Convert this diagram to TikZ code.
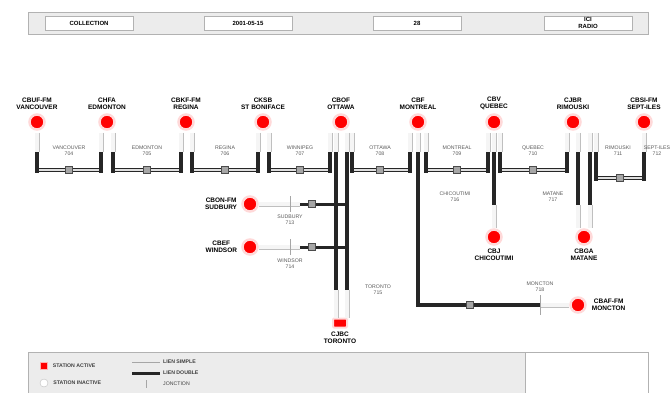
\documentclass[tikz,border=0pt]{standalone}
\usepackage{fontspec}
\setmainfont{Liberation Sans}
\usetikzlibrary{positioning}

\begin{document}
\begin{tikzpicture}[x=1pt, y=-1pt,
    stn/.style={circle, fill=red, draw=red!15, line width=2.5pt, minimum size=15pt, inner sep=0pt},
    stnlabel/.style={font=\bfseries\fontsize{6.5}{7}\selectfont, align=center, inner sep=1pt},
    tag/.style={font=\fontsize{5.2}{5.8}\selectfont, text=black!65, align=center, inner sep=1pt},
    feed/.style={draw=gray!50, double=gray!8, double distance=4pt, line width=0.5pt},
    leg/.style={draw=black!85, line width=4.5pt},
    cable/.style={draw=black!85, double=gray!25, double distance=2pt, line width=1.4pt},
    joint/.style={fill=gray!70, draw=black!70, minimum width=7pt, minimum height=7pt, inner sep=0pt},
    hbox/.style={draw=gray!60, fill=white, minimum width=88pt, minimum height=14pt, font=\bfseries\fontsize{6}{6.5}\selectfont, align=center, inner sep=0pt},
    lgtext/.style={font=\bfseries\fontsize{5.2}{5.8}\selectfont, text=black!75, inner sep=1pt}]
    \useasboundingbox (0,0) rectangle (672,392);
    % header
    \draw[gray!60, fill=gray!15] (28,12) rectangle (648,34);
    \node[hbox] (h1) at (89,23) {COLLECTION};
    \node[hbox] (h2) at (248,23) {2001-05-15};
    \node[hbox] (h3) at (417,23) {28};
    \node[hbox] (h4) at (588,23) {ICI\\RADIO};

    % stations on the main line
    \node[stn] (vanc) at (37,122) {};
    \node[stn] (edmo) at (107,122) {};
    \node[stn] (regi) at (186,122) {};
    \node[stn] (sbon) at (263,122) {};
    \node[stn] (otta) at (341,122) {};
    \node[stn] (mont) at (418,122) {};
    \node[stn] (queb) at (494,122) {};
    \node[stn] (rimo) at (573,122) {};
    \node[stn] (sept) at (644,122) {};
    \node[stnlabel, above=2pt of vanc] (vancL) {CBUF-FM\\VANCOUVER};
    \node[stnlabel, above=2pt of edmo] (edmoL) {CHFA\\EDMONTON};
    \node[stnlabel, above=2pt of regi] (regiL) {CBKF-FM\\REGINA};
    \node[stnlabel, above=2pt of sbon] (sbonL) {CKSB\\ST BONIFACE};
    \node[stnlabel, above=2pt of otta] (ottaL) {CBOF\\OTTAWA};
    \node[stnlabel, above=2pt of mont] (montL) {CBF\\MONTREAL};
    \node[stnlabel, above=2pt of queb] (quebL) {CBV\\QUEBEC};
    \node[stnlabel, above=2pt of rimo] (rimoL) {CJBR\\RIMOUSKI};
    \node[stnlabel, above=2pt of sept] (septL) {CBSI-FM\\SEPT-ILES};

    % branch stations
    \node[stn] (sudb) at (250,204) {};
    \node[stn] (wind) at (250,247) {};
    \node[stn] (chic) at (494,237) {};
    \node[stn] (mata) at (584,237) {};
    \node[stn] (monc) at (578,305) {};
    \node[fill=red, draw=red!15, line width=2pt, rounded corners=1pt, minimum width=14pt, minimum height=9pt, inner sep=0pt] (toro) at (340,323) {};
    \node[stnlabel, left=3pt of sudb] (sudbL) {CBON-FM\\SUDBURY};
    \node[stnlabel, left=3pt of wind] (windL) {CBEF\\WINDSOR};
    \node[stnlabel, below=2pt of chic] (chicL) {CBJ\\CHICOUTIMI};
    \node[stnlabel, below=2pt of mata] (mataL) {CBGA\\MATANE};
    \node[stnlabel, below=2pt of toro] (toroL) {CJBC\\TORONTO};
    \node[stnlabel, right=4pt of monc] (moncL) {CBAF-FM\\MONCTON};

    % leg ends
    \coordinate (vancA) at (37,152);  \coordinate (vancB) at (37,170);
    \coordinate (edmoA) at (101,152); \coordinate (edmoB) at (101,170);
    \coordinate (edmoC) at (113,152); \coordinate (edmoD) at (113,170);
    \coordinate (regiA) at (181,152); \coordinate (regiB) at (181,170);
    \coordinate (regiC) at (192,152); \coordinate (regiD) at (192,170);
    \coordinate (sbonA) at (258,152); \coordinate (sbonB) at (258,170);
    \coordinate (sbonC) at (269,152); \coordinate (sbonD) at (269,170);
    \coordinate (ottaA) at (330,152); \coordinate (ottaB) at (330,170);
    \coordinate (ottaC) at (352,152); \coordinate (ottaD) at (352,170);
    \coordinate (ottaG) at (336,152); \coordinate (ottaH) at (347,152);
    \coordinate (montA) at (410,152); \coordinate (montB) at (410,170);
    \coordinate (montC) at (426,152); \coordinate (montD) at (426,170);
    \coordinate (montG) at (418,152);
    \coordinate (quebA) at (488,152); \coordinate (quebB) at (488,170);
    \coordinate (quebC) at (500,152); \coordinate (quebD) at (500,170);
    \coordinate (quebG) at (494,152);
    \coordinate (rimoA) at (567,152); \coordinate (rimoB) at (567,170);
    \coordinate (rimoC) at (596,152); \coordinate (rimoD) at (596,178);
    \coordinate (rimoG) at (578,152); \coordinate (rimoH) at (590,152);
    \coordinate (septA) at (644,152); \coordinate (septB) at (644,178);

    % feeds from the stations
    \foreach \s/\p in {vanc/vancA, edmo/edmoA, edmo/edmoC, regi/regiA, regi/regiC, sbon/sbonA, sbon/sbonC,
        otta/ottaA, otta/ottaC, otta/ottaG, otta/ottaH, mont/montA, mont/montC, mont/montG,
        queb/quebA, queb/quebC, queb/quebG, rimo/rimoA, rimo/rimoC, rimo/rimoG, rimo/rimoH, sept/septA}
        \draw[feed] ([yshift=-2pt]\s.south -| \p) -- (\p);

    % main cables
    \draw[cable] (vancA) -- (vancB) -- (edmoB) -- (edmoA);
    \draw[cable] (edmoC) -- (edmoD) -- (regiB) -- (regiA);
    \draw[cable] (regiC) -- (regiD) -- (sbonB) -- (sbonA);
    \draw[cable] (sbonC) -- (sbonD) -- (ottaB) -- (ottaA);
    \draw[cable] (ottaC) -- (ottaD) -- (montB) -- (montA);
    \draw[cable] (montC) -- (montD) -- (quebB) -- (quebA);
    \draw[cable] (quebC) -- (quebD) -- (rimoB) -- (rimoA);
    \draw[cable] (rimoC) -- (rimoD) -- (septB) -- (septA);
    \foreach \a/\b in {vancA/vancB, edmoA/edmoB, edmoC/edmoD, regiA/regiB, regiC/regiD, sbonA/sbonB, sbonC/sbonD, ottaA/ottaB, ottaC/ottaD, montA/montB, montC/montD, quebA/quebB, quebC/quebD, rimoA/rimoB, septA/septB}
        \draw[leg] (\a) -- ([yshift=-3pt]\b);
    \draw[leg] (rimoC) -- ([yshift=-3pt]rimoD);

    % joints and cable tags
    \node[joint] (j1) at (69,170) {};
    \node[joint] (j2) at (147,170) {};
    \node[joint] (j3) at (225,170) {};
    \node[joint] (j4) at (300,170) {};
    \node[joint] (j5) at (380,170) {};
    \node[joint] (j6) at (457,170) {};
    \node[joint] (j7) at (533,170) {};
    \node[joint] (j8) at (620,178) {};
    \node[tag] (t1) at (69,151) {VANCOUVER\\704};
    \node[tag] (t2) at (147,151) {EDMONTON\\705};
    \node[tag] (t3) at (225,151) {REGINA\\706};
    \node[tag] (t4) at (300,151) {WINNIPEG\\707};
    \node[tag] (t5) at (380,151) {OTTAWA\\708};
    \node[tag] (t6) at (457,151) {MONTREAL\\709};
    \node[tag] (t7) at (533,151) {QUEBEC\\710};
    \node[tag] (t8) at (618,151) {RIMOUSKI\\711};
    \node[tag] (t9) at (657,151) {SEPT-ILES\\712};

    % Ottawa to Toronto, with Sudbury and Windsor
    \coordinate (ottaE) at (336,290); \coordinate (ottaF) at (347,290);
    \draw[leg] (ottaG) -- (ottaE);
    \draw[leg] (ottaH) -- (ottaF);
    \draw[feed] (ottaE) -- (ottaE |- toro.north);
    \draw[feed] (ottaF) -- (ottaF |- toro.north);
    \coordinate (sudbA) at (300,204); \coordinate (windA) at (300,247);
    \draw[feed] (sudb) -- (sudbA);
    \draw[feed] (wind) -- (windA);
    \draw[leg, line width=3pt] (sudbA) -- (349,204);
    \draw[leg, line width=3pt] (windA) -- (349,247);
    \node[joint] (j10) at (312,204) {};
    \node[joint] (j11) at (312,247) {};
    \draw[gray!70] (290,196) -- (290,212);
    \draw[gray!70] (290,239) -- (290,255);
    \node[tag] (t10) at (290,220) {SUDBURY\\713};
    \node[tag] (t11) at (290,264) {WINDSOR\\714};
    \node[tag] (t12) at (378,290) {TORONTO\\715};

    % Montreal to Moncton
    \coordinate (montE) at (418,305); \coordinate (montF) at (540,305);
    \draw[leg] (montG) -- (montE) -- (montF);
    \draw[feed] (montF) -- (monc);
    \node[joint] (j12) at (470,305) {};
    \draw[gray!70] (540,295) -- (540,315);
    \node[tag] (t13) at (540,287) {MONCTON\\718};

    % Quebec to Chicoutimi, Rimouski to Matane
    \coordinate (quebE) at (494,205);
    \draw[leg] (quebG) -- (quebE);
    \draw[feed] (quebE) -- (chic);
    \coordinate (rimoE) at (578,205); \coordinate (rimoF) at (590,205);
    \draw[leg] (rimoG) -- (rimoE);
    \draw[leg] (rimoH) -- (rimoF);
    \draw[feed] (rimoE) -- (rimoE |- mata.north);
    \draw[feed] (rimoF) -- (rimoF |- mata.north);
    \node[tag] (t14) at (455,197) {CHICOUTIMI\\716};
    \node[tag] (t15) at (553,197) {MATANE\\717};

    % legend
    \draw[gray!60, fill=gray!15] (28,352) rectangle (648,396);
    \draw[gray!60, fill=white] (525,352) rectangle (648,396);
    \node[fill=red, draw=red!30, minimum size=7pt, inner sep=0pt] (lg1) at (44,366) {};
    \node[circle, fill=white, draw=gray!50, minimum size=8pt, inner sep=0pt] (lg2) at (44,383) {};
    \node[lgtext, right=4pt of lg1] (lg1L) {STATION ACTIVE};
    \node[lgtext, right=4pt of lg2] (lg2L) {STATION INACTIVE};
    \coordinate (lg3a) at (132,362); \coordinate (lg3b) at (160,362);
    \coordinate (lg4a) at (132,373); \coordinate (lg4b) at (160,373);
    \draw[gray!70] (lg3a) -- (lg3b);
    \draw[leg, line width=3pt] (lg4a) -- (lg4b);
    \draw[gray!70] (146,380) -- (146,388);
    \node[lgtext, right=2pt of lg3b] (lg3L) {LIEN SIMPLE};
    \node[lgtext, right=2pt of lg4b] (lg4L) {LIEN DOUBLE};
    \node[lgtext, font=\fontsize{5.2}{5.8}\selectfont, anchor=west] (lg5L) at (162,384) {JONCTION};
\end{tikzpicture}
\end{document}
